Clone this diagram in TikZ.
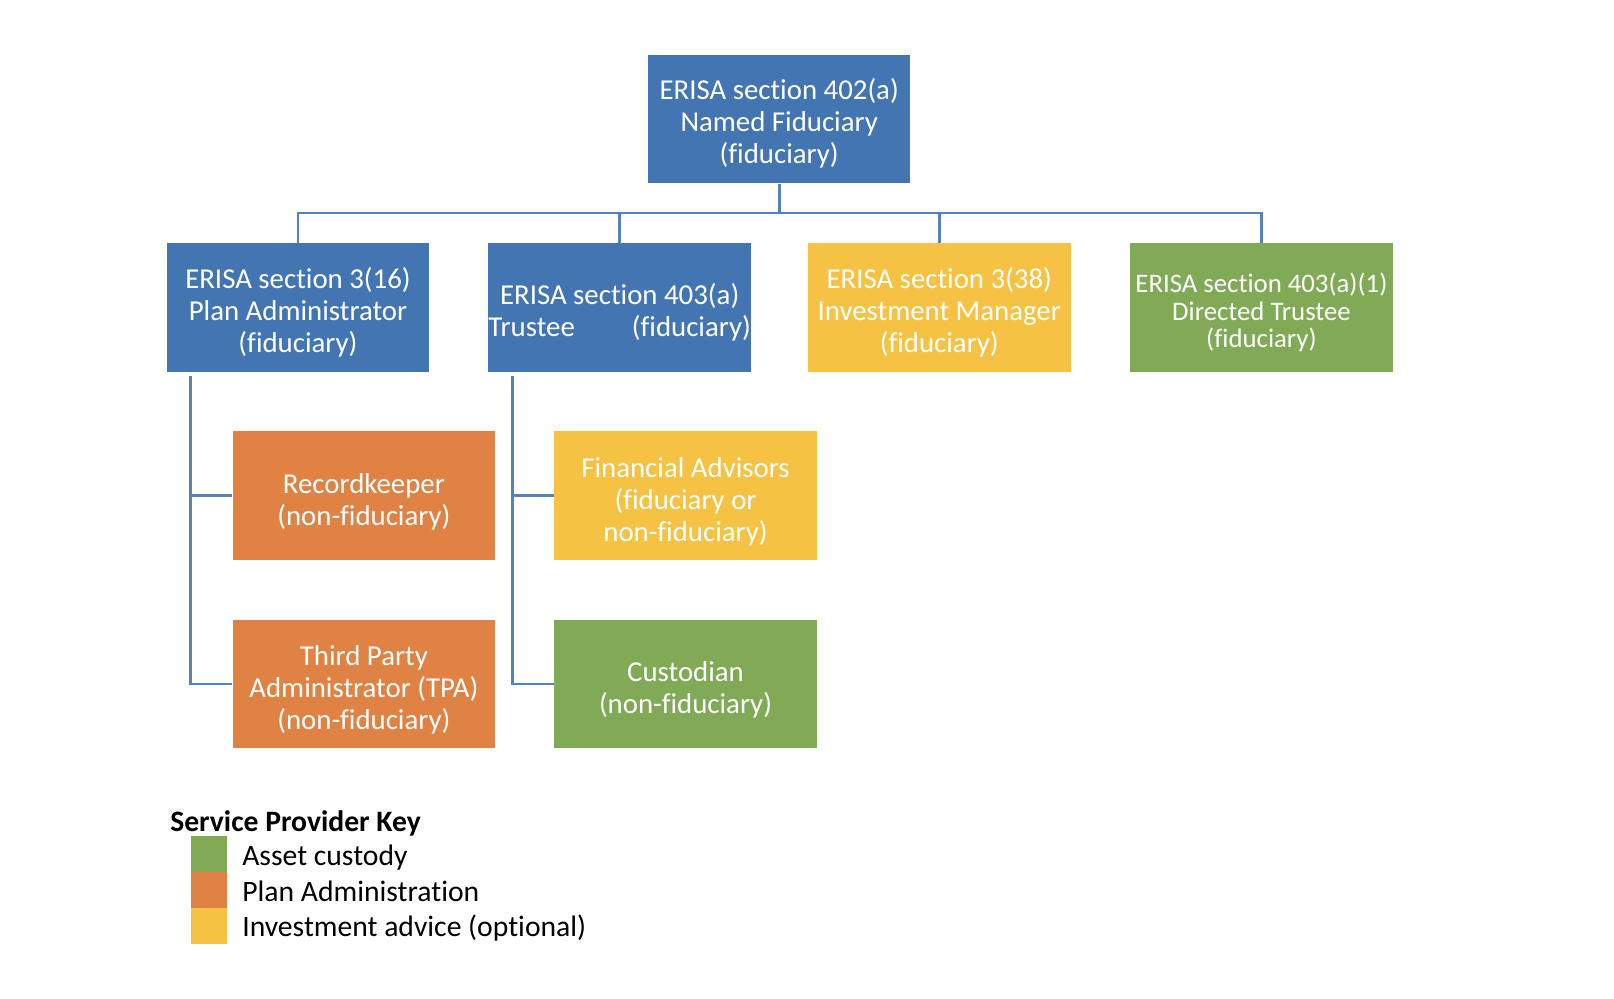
\documentclass[tikz,border=0pt]{standalone}
\usepackage{fontspec}
\setmainfont{Carlito}[Ligatures=NoCommon]
\definecolor{boxblue}{HTML}{4275B2}
\definecolor{boxorange}{HTML}{E08244}
\definecolor{boxyellow}{HTML}{F6C243}
\definecolor{boxgreen}{HTML}{80AA56}
\definecolor{linkblue}{HTML}{5283BF}
\newcommand{\bxt}[2][-2.5pt]{\raisebox{#1}[\height][\depth]{\begin{tabular}{@{}c@{}}#2\end{tabular}}}
\begin{document}
\begin{tikzpicture}[x=0.5pt,y=-0.5pt,
  box/.style={minimum width=127.5pt,minimum height=62.5pt,inner sep=0pt,text=white,font=\fontsize{14}{15.5}\selectfont},
  link/.style={draw=linkblue,line width=1.2pt},
  swatch/.style={minimum width=17.5pt,minimum height=17.5pt,inner sep=0pt},
  keytext/.style={anchor=west,inner sep=0pt,font=\fontsize{14.4}{16}\selectfont}]
\useasboundingbox (0,0) rectangle (1568,970);
% boxes
\node[box,fill=boxblue] (top) at (757,115.5) {\bxt[-3pt]{ERISA section 402(a)\\Named Fiduciary\\(fiduciary)}};
\node[box,fill=boxblue] (pa) at (289.5,298.5) {\bxt[-3.5pt]{ERISA section 3(16)\\Plan Administrator\\(fiduciary)}};
\node[box,fill=boxblue] (tr) at (602,298.5) {\bxt[-3.5pt]{ERISA section 403(a)\\\makebox[127.5pt]{Trustee\hfill(fiduciary)}}};
\node[box,fill=boxyellow] (im) at (912.5,298.5) {\bxt[-3.5pt]{ERISA section 3(38)\\Investment Manager\\(fiduciary)}};
\node[box,fill=boxgreen,font=\fontsize{13}{13.5}\selectfont] (dt) at (1225.5,298.5) {\bxt[-3.5pt]{ERISA section 403(a)(1)\\Directed Trustee\\(fiduciary)}};
\node[box,fill=boxorange] (rk) at (353.5,481.5) {\bxt[-3.5pt]{Recordkeeper\\(non-fiduciary)}};
\node[box,fill=boxorange] (tpa) at (353.5,664.5) {\bxt[-3.5pt]{Third Party\\Administrator (TPA)\\(non-fiduciary)}};
\node[box,fill=boxyellow] (fa) at (666,481.5) {\bxt[-3.5pt]{Financial Advisors\\(fiduciary or\\non-fiduciary)}};
\node[box,fill=boxgreen] (cu) at (666,664.5) {\bxt[-3.5pt]{Custodian\\(non-fiduciary)}};
% connectors
\coordinate (bus) at (757,207);
\coordinate (ltop) at (185,365);
\coordinate (rtop) at (498,365);
\draw[link,line width=1.6pt] (top.south) -- (bus);
\draw[link] (pa.north) |- (bus) -| (dt.north);
\draw[link] (tr.north) -- (tr.north |- bus);
\draw[link] (im.north) -- (im.north |- bus);
\draw[link] (ltop) |- (tpa.west);
\draw[link] (ltop |- rk.west) -- (rk.west);
\draw[link] (rtop) |- (cu.west);
\draw[link] (rtop |- fa.west) -- (fa.west);
% key
\node[anchor=west,inner sep=0pt,font=\fontsize{14.4}{16}\selectfont\bfseries] (keytitle) at (165,799.5) {Service Provider Key};
\node[swatch,fill=boxgreen] (kg) at (203.5,829.5) {};
\node[swatch,fill=boxorange] (ko) at (203.5,864.5) {};
\node[swatch,fill=boxyellow] (ky) at (203.5,899.5) {};
\node[keytext] (kgt) at (235,833) {Asset custody};
\node[keytext] (kot) at (235,866) {Plan Administration};
\node[keytext] (kyt) at (235,902) {Investment advice (optional)};
\end{tikzpicture}
\end{document}
